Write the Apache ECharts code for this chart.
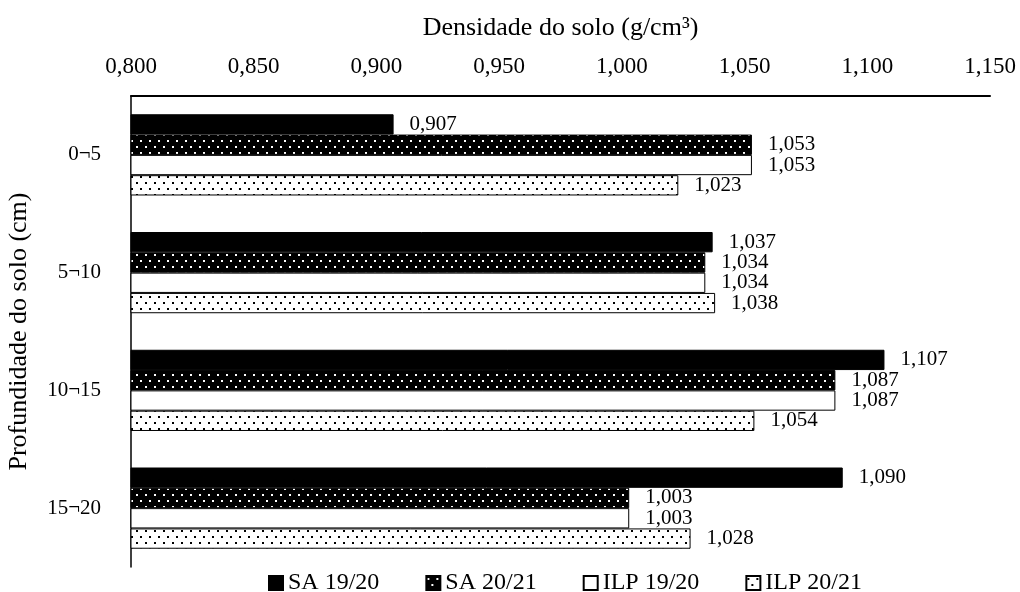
<!DOCTYPE html>
<html><head><meta charset="utf-8">
<script src="https://cdn.jsdelivr.net/npm/echarts@6/dist/echarts.min.js"></script>
<style>html,body{margin:0;padding:0;background:#fff}#c{width:1020px;height:592px}</style>
</head><body><div id="c"></div>
<script>
var categories = ['0¬5', '5¬10', '10¬15', '15¬20'];
var seriesNames = ['SA 19/20', 'SA 20/21', 'ILP 19/20', 'ILP 20/21'];
var sa1920 = [0.907, 1.037, 1.107, 1.090];
var sa2021 = [1.053, 1.034, 1.087, 1.003];
var ilp1920 = [1.053, 1.034, 1.087, 1.003];
var ilp2021 = [1.023, 1.038, 1.054, 1.028];
var xTicks = [0.800, 0.850, 0.900, 0.950, 1.000, 1.050, 1.100, 1.150];

function dotPattern(bg, fg) {
  var c = document.createElement('canvas');
  c.width = 9; c.height = 12;
  var g = c.getContext('2d');
  g.fillStyle = bg; g.fillRect(0, 0, 9, 12);
  g.fillStyle = fg;
  g.fillRect(1, 2, 2, 2);
  g.fillRect(5, 8, 2, 2);
  return {image: c, repeat: 'repeat'};
}
var fmt = function (v) { return v.toFixed(3).replace('.', ','); };
var font = 'Liberation Serif';
var fills = ['#000', dotPattern('#000', '#fff'), '#fff', dotPattern('#fff', '#000')];
var datas = [sa1920, sa2021, ilp1920, ilp2021];

var chart = echarts.init(document.getElementById('c'));
chart.setOption({
  animation: false,
  textStyle: {fontFamily: font, color: '#000'},
  grid: {left: 131, right: 30, top: 96, bottom: 25, containLabel: false, outerBoundsMode: 'none'},
  legend: {
    top: 566, left: 263, icon: 'rect', itemWidth: 14, itemHeight: 14, itemGap: 46,
    textStyle: {fontFamily: font, fontSize: 24, color: '#000'},
    data: seriesNames
  },
  xAxis: {
    type: 'value', position: 'top', min: 0.8, max: 1.15, interval: 0.05,
    name: 'Densidade do solo (g/cm³)', nameLocation: 'middle', nameGap: 55,
    nameTextStyle: {fontFamily: font, fontSize: 26, color: '#000'},
    axisLine: {show: true, lineStyle: {color: '#000', width: 2}},
    axisTick: {show: false}, splitLine: {show: false},
    axisLabel: {fontFamily: font, fontSize: 23, color: '#000', margin: 18,
      formatter: function (v) { return fmt(v); }}
  },
  yAxis: {
    type: 'category', data: categories, inverse: true,
    name: 'Profundidade do solo (cm)', nameLocation: 'middle', nameGap: 99,
    nameTextStyle: {fontFamily: font, fontSize: 26, color: '#000'},
    axisLine: {show: true, lineStyle: {color: '#000', width: 1.5}},
    axisTick: {show: false},
    axisLabel: {fontFamily: font, fontSize: 21, color: '#000', margin: 30}
  },
  series: seriesNames.map(function (n, i) {
    return {
      name: n, type: 'bar', data: datas[i], barGap: '0%', barCategoryGap: '31%',
      itemStyle: {color: fills[i], borderColor: '#000', borderWidth: 1},
      label: {show: true, position: 'right', distance: 16, fontFamily: font, fontSize: 21, color: '#000',
        formatter: function (p) { return fmt(p.value); }}
    };
  })
});
</script></body></html>
